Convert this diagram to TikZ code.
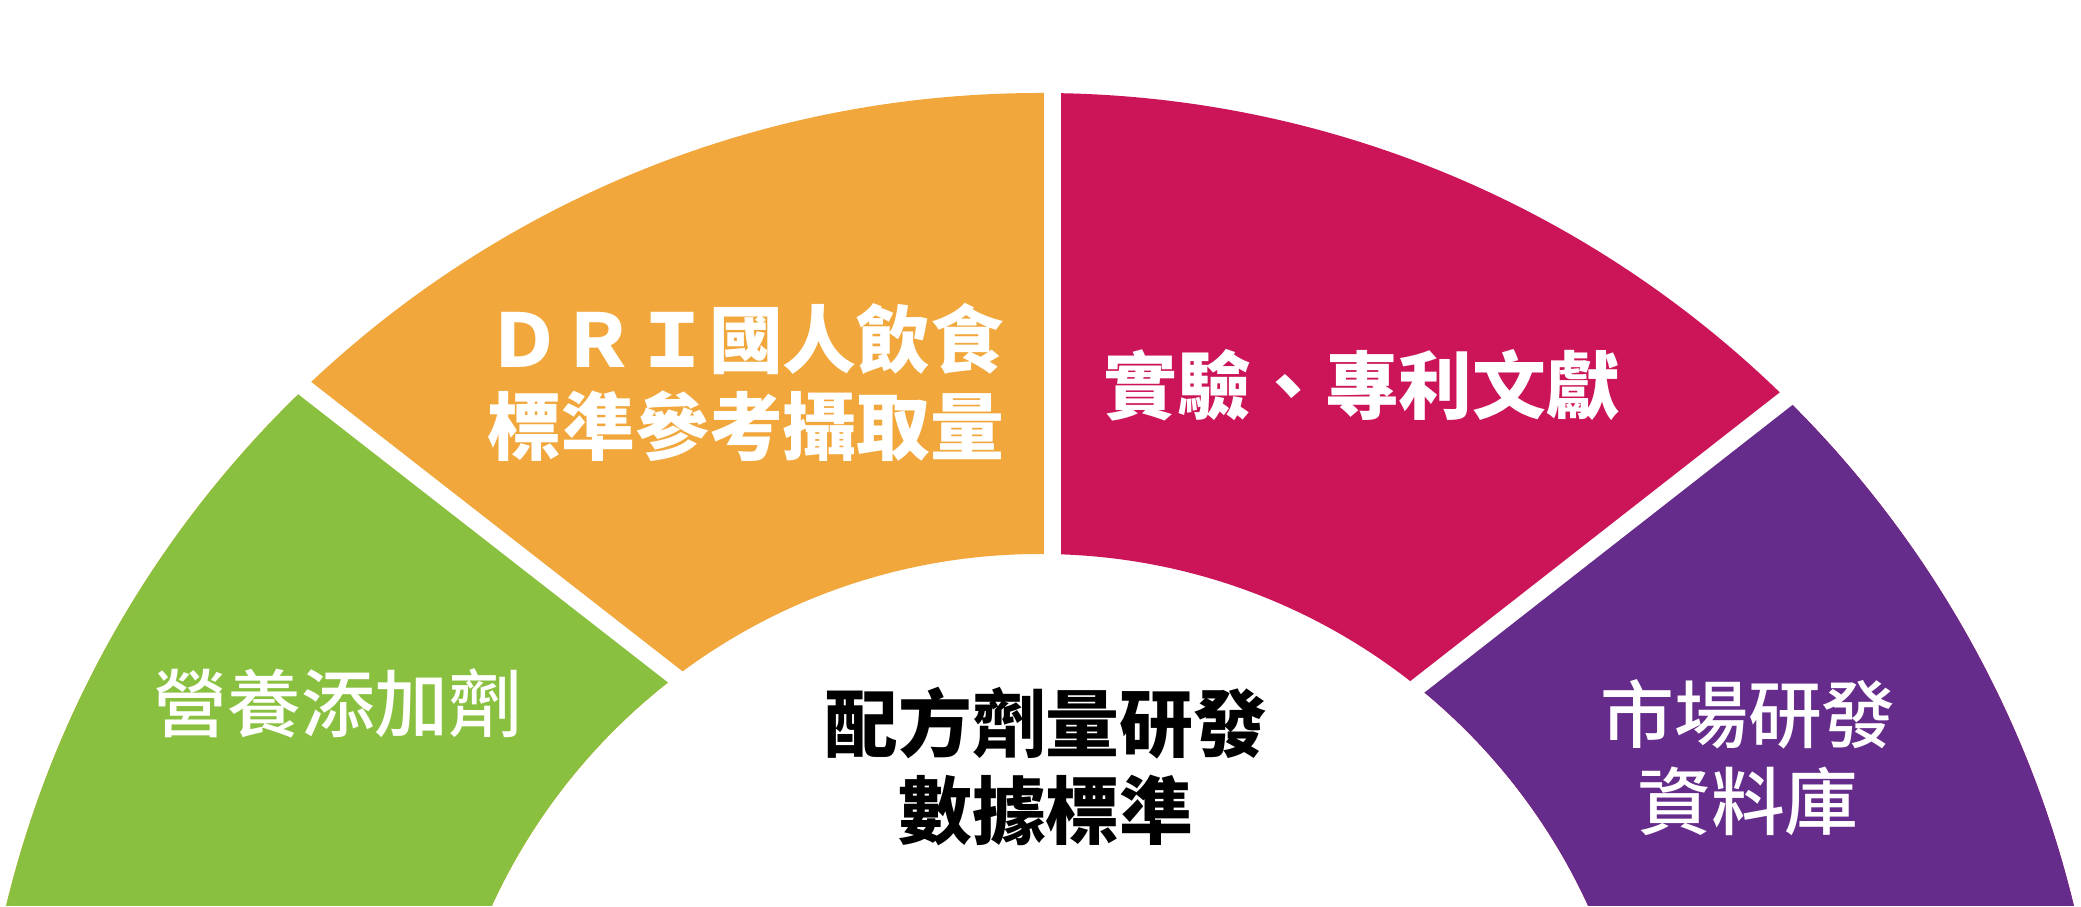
\documentclass[tikz,border=0pt]{standalone}
\usepackage{fontspec}
\newfontfamily\cjk{Noto Sans CJK TC}
\newfontfamily\cjkmed{Noto Sans CJK TC Medium}
\usepackage{tikz}
\usetikzlibrary{calc}

\definecolor{nutrigreen}{HTML}{8AC03F}
\definecolor{driorange}{HTML}{F1A73B}
\definecolor{exptred}{HTML}{CC1558}
\definecolor{marketpurple}{HTML}{652C8B}

\tikzset{
  ring/.style={insert path={(0:10.636) arc[start angle=0,end angle=180,radius=10.636]
       -- (180:6.026) arc[start angle=180,end angle=0,radius=6.026] -- cycle}},
  gap/.style={draw=white,line width=0.175cm},
  label/.style={text=white,align=center,inner sep=0pt,font=\cjkmed\fontsize{21}{24.75}\selectfont}
}

\begin{document}
\begin{tikzpicture}
\useasboundingbox (-10.40,2.506) rectangle (10.41,11.566);
\clip (-10.40,2.506) rectangle (10.41,11.566);

% ends of the gaps
\coordinate (lo) at (-7.35,7.683);
\coordinate (li) at (-3.65,4.799);
\coordinate (ro) at (7.4615,7.5795);
\coordinate (ri) at (3.782,4.704);
\coordinate (to) at (0.125,11.2);
\coordinate (ti) at (0.125,5.7);

\begin{scope}
    \clip (-20,0) rectangle (0.125,20);
    \fill[driorange,ring];
\end{scope}
\begin{scope}
    \clip (0.125,0) rectangle (20,20);
    \fill[exptred,ring];
\end{scope}
\begin{scope}
    \clip ($(lo)!-2!(li)$) -- ($(lo)!3!(li)$) -- (-20,-1) -- (-20,14) -- cycle;
    \fill[nutrigreen,ring];
\end{scope}
\begin{scope}
    \clip ($(ro)!-2!(ri)$) -- ($(ro)!3!(ri)$) -- (20,-1) -- (20,14) -- cycle;
    \fill[marketpurple,ring];
\end{scope}

\draw[gap] ($(lo)!-0.2!(li)$) -- ($(li)!-0.2!(lo)$);
\draw[gap] ($(ro)!-0.2!(ri)$) -- ($(ri)!-0.2!(ro)$);
\draw[gap] (to) -- (ti);

\begin{scope}[every node/.style={label}]
    \node (nutri) at (-7.02,4.536) {營養添加劑};
    \node[font=\cjk\bfseries\fontsize{21}{24.75}\selectfont] (dri) at (-2.94,7.741) {ＤＲＩ國人飲食\\標準參考攝取量};
    \node[font=\cjk\bfseries\fontsize{21}{24.75}\selectfont] (expt) at (3.22,7.716) {實驗、專利文獻};
    \node (market) at (7.08,3.986) {市場研發\\資料庫};
    \node[text=black,font=\cjk\bfseries\fontsize{21}{24.75}\selectfont] (formula) at (0.06,3.901) {配方劑量研發\\數據標準};
\end{scope}
\end{tikzpicture}
\end{document}
